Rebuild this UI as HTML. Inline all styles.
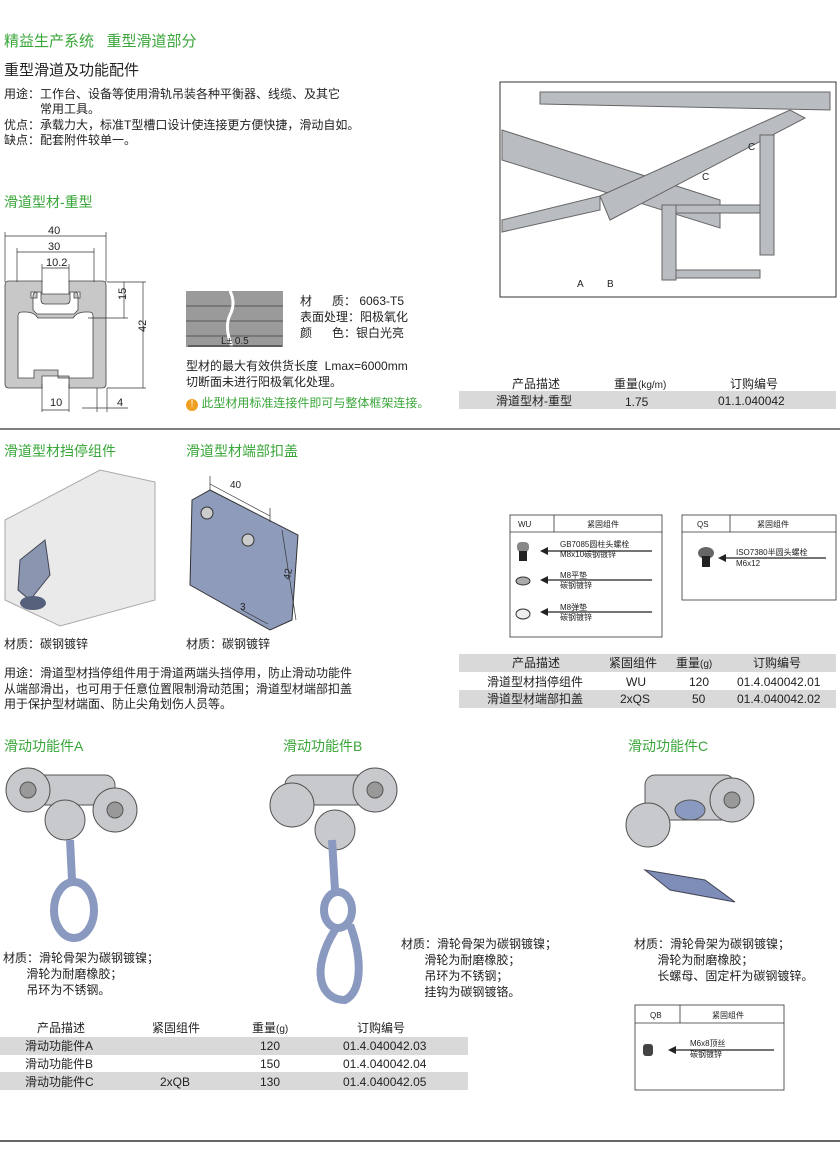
<!DOCTYPE html>
<html><head><meta charset="utf-8"><style>
body{margin:0;width:840px;height:1154px;background:#fff;position:relative;overflow:hidden;font-family:"Liberation Sans","Noto Sans CJK SC",sans-serif;color:#222}
.t{position:absolute;white-space:nowrap;font-size:12px;line-height:14px}
.g{color:#3aa63a;font-size:14px}
.h{font-size:14px}
svg{position:absolute;left:0;top:0}
</style></head><body>
<div class="t g" style="left:4px;top:35px;font-size:15px">精益生产系统&nbsp;&nbsp;&nbsp;重型滑道部分</div>
<div class="t h" style="left:4px;top:64px;font-size:15px">重型滑道及功能配件</div>
<div class="t" style="left:4px;top:87px">用途：工作台、设备等使用滑轨吊装各种平衡器、线缆、及其它</div>
<div class="t" style="left:40px;top:102px">常用工具。</div>
<div class="t" style="left:4px;top:118px">优点：承载力大，标准T型槽口设计使连接更方便快捷，滑动自如。</div>
<div class="t" style="left:4px;top:133px">缺点：配套附件较单一。</div>
<div class="t g" style="left:4px;top:195px">滑道型材-重型</div>

<svg width="840" height="1154">
<!-- profile -->
<path fill-rule="evenodd" fill="#c8c8c8" stroke="#444" stroke-width="0.8" d="M9 281 h33 v13 h27 v-13 h33 q4 0 4 4 v99 q0 4 -4 4 h-33 v-12 h-27 v12 h-33 q-4 0 -4 -4 v-99 q0 -4 4 -4 z
M31 292 h6 v6 h-6 z M74 292 h6 v6 h-6 z
M33 296 q0 -4 4 -4 h4 v8 q0 4 4 4 h21 q4 0 4 -4 v-8 h4 q4 0 4 4 v14 l-4 4 h-37 l-4 -4 z
M18 316 q0 -4 4 -4 h4 q8 0 12 6 h35 q4 -6 12 -6 h4 q4 0 4 4 v62 h-35 v-8 h-24 v8 h-16 z"/>
<g stroke="#333" stroke-width="0.7" fill="none">
<line x1="5" y1="236" x2="106" y2="236"/><line x1="17" y1="252" x2="94" y2="252"/><line x1="42" y1="268" x2="69" y2="268"/>
<line x1="5" y1="232" x2="5" y2="282"/><line x1="106" y1="232" x2="106" y2="282"/>
<line x1="17" y1="248" x2="17" y2="282"/><line x1="94" y1="248" x2="94" y2="282"/>
<line x1="42" y1="264" x2="42" y2="282"/><line x1="69" y1="264" x2="69" y2="282"/>
<line x1="107" y1="282" x2="146" y2="282"/><line x1="88" y1="318" x2="128" y2="318"/><line x1="107" y1="388" x2="146" y2="388"/>
<line x1="124" y1="282" x2="124" y2="318"/><line x1="143" y1="282" x2="143" y2="388"/>
<line x1="42" y1="384" x2="42" y2="412"/><line x1="69" y1="384" x2="69" y2="412"/>
<line x1="42" y1="410" x2="69" y2="410"/><line x1="82" y1="408" x2="128" y2="408"/>
<line x1="97" y1="388" x2="97" y2="412"/><line x1="107" y1="388" x2="107" y2="412"/>
</g>
<g font-size="11" fill="#222" font-family="Liberation Sans">
<text x="48" y="234">40</text><text x="48" y="250">30</text><text x="46" y="266">10.2</text>
<text x="50" y="406">10</text><text x="117" y="406">4</text>
<text x="122" y="304" transform="rotate(-90 122 300)">15</text>
<text x="142" y="336" transform="rotate(-90 142 332)">42</text>
</g>
<!-- stripe -->
<rect x="186" y="291" width="97" height="56" fill="#9a9a9a"/>
<g stroke="#555" stroke-width="1"><line x1="186" y1="306" x2="283" y2="306"/><line x1="186" y1="321" x2="283" y2="321"/><line x1="186" y1="336" x2="283" y2="336"/></g>
<path d="M230 291 q6 12 0 24 q-6 12 2 32" stroke="#fff" stroke-width="3" fill="none"/>
<line x1="188" y1="346" x2="282" y2="346" stroke="#222"/>
<!-- right photo -->
<rect x="500" y="82" width="336" height="215" fill="#fff" stroke="#333"/>
<g fill="#b9bcc0" stroke="#666">
<path d="M502 130 L720 200 L720 228 L502 160 z"/>
<path d="M502 220 L600 196 L600 210 L502 232 z"/>
<path d="M600 196 L790 110 L805 118 L610 220 z"/>
<path d="M540 92 L830 92 L830 110 L540 104 z"/>
<rect x="662" y="205" width="14" height="75"/><rect x="760" y="135" width="14" height="120"/>
<path d="M676 205 h84 v8 h-84z M676 270 h84 v8 h-84z"/>
</g>
<g font-size="10" fill="#222"><text x="577" y="287">A</text><text x="607" y="287">B</text><text x="702" y="180">C</text><text x="748" y="150">C</text></g>
<line x1="0" y1="429" x2="840" y2="429" stroke="#555" stroke-width="1.5"/>
<!-- stop component image -->
<path d="M5 520 L100 470 L155 482 L155 600 L60 626 L5 600 z" fill="#eaeaea" stroke="#aaa"/>
<path d="M20 560 L45 540 L50 575 L30 600 L18 590 z" fill="#8a96b0" stroke="#445"/>
<ellipse cx="33" cy="603" rx="13" ry="7" fill="#55617a"/>
<!-- end cap -->
<path d="M192 500 L210 490 L298 535 L292 620 L270 630 L190 585 z" fill="#8f9bbb" stroke="#333"/>
<circle cx="207" cy="513" r="6" fill="#ccc" stroke="#333"/><circle cx="248" cy="540" r="6" fill="#ccc" stroke="#333"/>
<g stroke="#333" stroke-width="0.7" fill="none"><line x1="210" y1="490" x2="210" y2="476"/><line x1="270" y1="522" x2="270" y2="508"/><line x1="210" y1="484" x2="270" y2="516"/><line x1="282" y1="530" x2="296" y2="620"/><line x1="242" y1="610" x2="268" y2="624"/></g>
<g font-size="10" fill="#222"><text x="230" y="488">40</text><text x="290" y="580" transform="rotate(-80 290 580)">42</text><text x="240" y="610">3</text></g>
<!-- boxes -->
<g stroke="#333" fill="none" stroke-width="0.8">
<rect x="510" y="515" width="152" height="122"/><line x1="510" y1="532" x2="662" y2="532"/><line x1="554" y1="515" x2="554" y2="532"/>
<rect x="682" y="515" width="154" height="85"/><line x1="682" y1="532" x2="836" y2="532"/><line x1="730" y1="515" x2="730" y2="532"/>
<rect x="635" y="1005" width="149" height="85"/><line x1="635" y1="1023" x2="784" y2="1023"/><line x1="680" y1="1005" x2="680" y2="1023"/>
</g>
<g stroke="#222" stroke-width="1.2"><line x1="544" y1="551" x2="652" y2="551"/><line x1="544" y1="580" x2="652" y2="580"/><line x1="544" y1="612" x2="652" y2="612"/><line x1="722" y1="558" x2="826" y2="558"/><line x1="672" y1="1050" x2="774" y2="1050"/></g>
<g fill="#222"><path d="M540 551 l8 -4 v8z M540 580 l8 -4 v8z M540 612 l8 -4 v8z M718 558 l8 -4 v8z M668 1050 l8 -4 v8z"/>
<rect x="517" y="542" width="12" height="10" rx="4" fill="#888"/><rect x="519" y="551" width="8" height="10"/>
<ellipse cx="523" cy="581" rx="7" ry="4" fill="#aaa" stroke="#333"/><ellipse cx="523" cy="614" rx="7" ry="5" fill="#eee" stroke="#333"/>
<ellipse cx="706" cy="553" rx="8" ry="6" fill="#666"/><rect x="702" y="556" width="8" height="11"/>
<rect x="643" y="1044" width="10" height="12" rx="3" fill="#444"/></g>
<!-- trolleys -->
<g fill="#c7c9cc" stroke="#555">
<g transform="translate(70,770)"><rect x="-45" y="5" width="90" height="30" rx="10"/><circle cx="-42" cy="20" r="22"/><circle cx="45" cy="40" r="22"/><circle cx="-5" cy="50" r="20"/><circle cx="-42" cy="20" r="8" fill="#999"/><circle cx="45" cy="40" r="8" fill="#999"/></g>
<g transform="translate(330,770)"><rect x="-45" y="5" width="90" height="30" rx="10"/><circle cx="-38" cy="35" r="22"/><circle cx="45" cy="20" r="22"/><circle cx="5" cy="60" r="20"/><circle cx="45" cy="20" r="8" fill="#999"/></g>
<g transform="translate(690,770)"><rect x="-45" y="5" width="90" height="45" rx="10"/><circle cx="-42" cy="55" r="22"/><circle cx="42" cy="30" r="22"/><circle cx="42" cy="30" r="8" fill="#999"/><ellipse cx="0" cy="40" rx="15" ry="10" fill="#8a99bf"/></g>
</g>
<g fill="none" stroke="#8a99bf" stroke-width="8"><line x1="70" y1="840" x2="72" y2="880"/><ellipse cx="74" cy="910" rx="20" ry="28"/>
<line x1="332" y1="840" x2="335" y2="890"/><ellipse cx="338" cy="910" rx="14" ry="18"/><path d="M335 930 C310 970 320 1000 345 1000 C365 990 360 950 350 925"/></g>
<path d="M645 870 L705 880 L735 902 L670 890 z" fill="#7d8db8" stroke="#445"/>
<!-- table bars -->
<rect x="459" y="391" width="377" height="18" fill="#d9d9d9"/>
<rect x="459" y="654" width="377" height="18" fill="#d9d9d9"/>
<rect x="459" y="690" width="377" height="18" fill="#d9d9d9"/>
<rect x="0" y="1037" width="468" height="18" fill="#d9d9d9"/>
<rect x="0" y="1072" width="468" height="18" fill="#d9d9d9"/>
<line x1="0" y1="1141" x2="840" y2="1141" stroke="#666" stroke-width="2"/>
</svg>

<div class="t" style="left:300px;top:294px">材&nbsp;&nbsp;&nbsp;&nbsp;&nbsp;&nbsp;质：&nbsp;6063-T5</div>
<div class="t" style="left:300px;top:310px">表面处理：阳极氧化</div>
<div class="t" style="left:300px;top:326px">颜&nbsp;&nbsp;&nbsp;&nbsp;&nbsp;&nbsp;色：银白光亮</div>
<div class="t" style="left:221px;top:335px;font-size:10px">L± 0.5</div>
<div class="t" style="left:186px;top:359px">型材的最大有效供货长度&nbsp;&nbsp;Lmax=6000mm</div>
<div class="t" style="left:186px;top:375px">切断面未进行阳极氧化处理。</div>
<div class="t" style="left:186px;top:396px;color:#3aa63a"><span style="display:inline-block;width:12px;height:12px;border-radius:6px;background:#f0a020;color:#fff;text-align:center;font-size:10px;line-height:12px">!</span> 此型材用标准连接件即可与整体框架连接。</div>

<div class="t" style="left:512px;top:377px">产品描述</div><div class="t" style="left:614px;top:377px">重量<span style="font-size:10px">(kg/m)</span></div><div class="t" style="left:730px;top:377px">订购编号</div>
<div class="t" style="left:496px;top:394px">滑道型材-重型</div><div class="t" style="left:625px;top:395px">1.75</div><div class="t" style="left:718px;top:394px">01.1.040042</div>

<div class="t g" style="left:4px;top:444px">滑道型材挡停组件</div>
<div class="t g" style="left:186px;top:444px">滑道型材端部扣盖</div>
<div class="t" style="left:4px;top:637px">材质：碳钢镀锌</div>
<div class="t" style="left:186px;top:637px">材质：碳钢镀锌</div>
<div class="t" style="left:4px;top:666px">用途：滑道型材挡停组件用于滑道两端头挡停用，防止滑动功能件</div>
<div class="t" style="left:4px;top:682px">从端部滑出，也可用于任意位置限制滑动范围；滑道型材端部扣盖</div>
<div class="t" style="left:4px;top:697px">用于保护型材端面、防止尖角划伤人员等。</div>

<div class="t" style="left:518px;top:518px;font-size:8px">WU</div><div class="t" style="left:587px;top:518px;font-size:8px">紧固组件</div>
<div class="t" style="left:560px;top:540px;font-size:8px;line-height:10px">GB7085圆柱头螺栓<br>M8x10碳钢镀锌</div>
<div class="t" style="left:560px;top:571px;font-size:8px;line-height:10px">M8平垫<br>碳钢镀锌</div>
<div class="t" style="left:560px;top:603px;font-size:8px;line-height:10px">M8弹垫<br>碳钢镀锌</div>
<div class="t" style="left:697px;top:518px;font-size:8px">QS</div><div class="t" style="left:757px;top:518px;font-size:8px">紧固组件</div>
<div class="t" style="left:736px;top:547px;font-size:8px;line-height:11px">ISO7380半圆头螺栓<br>M6x12</div>

<div class="t" style="left:512px;top:656px">产品描述</div><div class="t" style="left:609px;top:656px">紧固组件</div><div class="t" style="left:676px;top:656px">重量<span style="font-size:10px">(g)</span></div><div class="t" style="left:753px;top:656px">订购编号</div>
<div class="t" style="left:487px;top:675px">滑道型材挡停组件</div><div class="t" style="left:626px;top:675px">WU</div><div class="t" style="left:689px;top:675px">120</div><div class="t" style="left:737px;top:675px">01.4.040042.01</div>
<div class="t" style="left:487px;top:692px">滑道型材端部扣盖</div><div class="t" style="left:620px;top:692px">2xQS</div><div class="t" style="left:692px;top:692px">50</div><div class="t" style="left:737px;top:692px">01.4.040042.02</div>

<div class="t g" style="left:4px;top:739px">滑动功能件A</div>
<div class="t g" style="left:283px;top:739px">滑动功能件B</div>
<div class="t g" style="left:628px;top:739px">滑动功能件C</div>

<div class="t" style="left:3px;top:950px;line-height:16px">材质：滑轮骨架为碳钢镀镍；<br>&nbsp;&nbsp;&nbsp;&nbsp;&nbsp;&nbsp;&nbsp;滑轮为耐磨橡胶；<br>&nbsp;&nbsp;&nbsp;&nbsp;&nbsp;&nbsp;&nbsp;吊环为不锈钢。</div>
<div class="t" style="left:401px;top:936px;line-height:16px">材质：滑轮骨架为碳钢镀镍；<br>&nbsp;&nbsp;&nbsp;&nbsp;&nbsp;&nbsp;&nbsp;滑轮为耐磨橡胶；<br>&nbsp;&nbsp;&nbsp;&nbsp;&nbsp;&nbsp;&nbsp;吊环为不锈钢；<br>&nbsp;&nbsp;&nbsp;&nbsp;&nbsp;&nbsp;&nbsp;挂钩为碳钢镀铬。</div>
<div class="t" style="left:634px;top:936px;line-height:16px">材质：滑轮骨架为碳钢镀镍；<br>&nbsp;&nbsp;&nbsp;&nbsp;&nbsp;&nbsp;&nbsp;滑轮为耐磨橡胶；<br>&nbsp;&nbsp;&nbsp;&nbsp;&nbsp;&nbsp;&nbsp;长螺母、固定杆为碳钢镀锌。</div>

<div class="t" style="left:37px;top:1021px">产品描述</div><div class="t" style="left:152px;top:1021px">紧固组件</div><div class="t" style="left:252px;top:1021px">重量<span style="font-size:10px">(g)</span></div><div class="t" style="left:357px;top:1021px">订购编号</div>
<div class="t" style="left:25px;top:1039px">滑动功能件A</div><div class="t" style="left:260px;top:1039px">120</div><div class="t" style="left:343px;top:1039px">01.4.040042.03</div>
<div class="t" style="left:25px;top:1057px">滑动功能件B</div><div class="t" style="left:260px;top:1057px">150</div><div class="t" style="left:343px;top:1057px">01.4.040042.04</div>
<div class="t" style="left:25px;top:1075px">滑动功能件C</div><div class="t" style="left:160px;top:1075px">2xQB</div><div class="t" style="left:260px;top:1075px">130</div><div class="t" style="left:343px;top:1075px">01.4.040042.05</div>

<div class="t" style="left:650px;top:1009px;font-size:8px">QB</div><div class="t" style="left:712px;top:1009px;font-size:8px">紧固组件</div>
<div class="t" style="left:690px;top:1038px;font-size:8px;line-height:11px">M6x8顶丝<br>碳钢镀锌</div>
</body></html>
